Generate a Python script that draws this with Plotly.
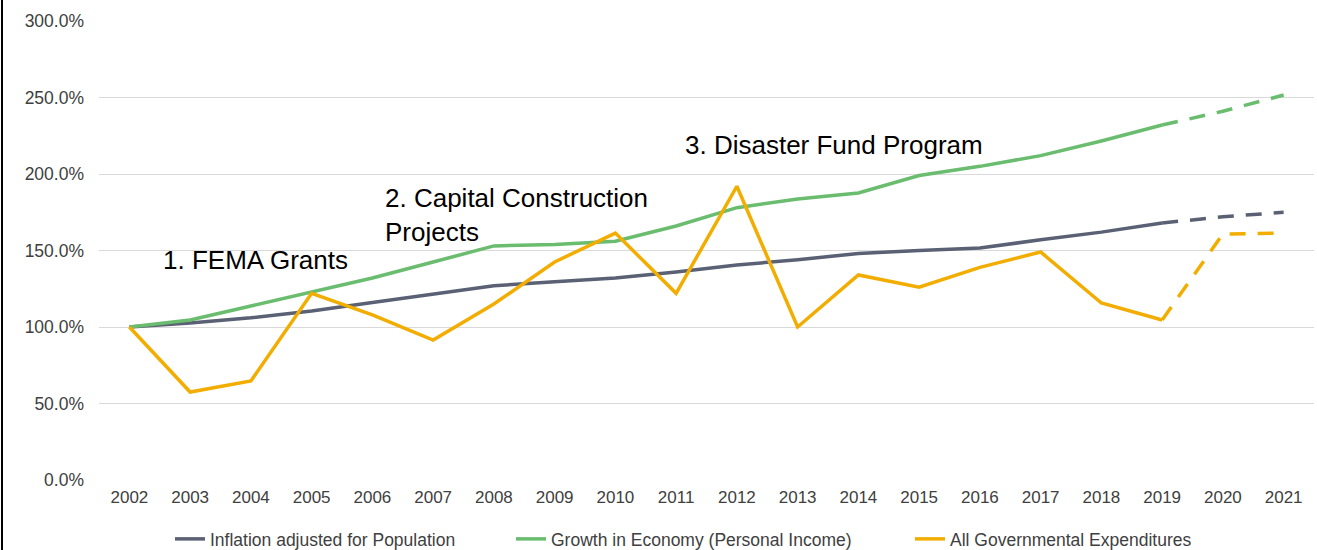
import plotly.graph_objects as go

years = [str(y) for y in range(2002, 2022)]

inflation = [100.0, 102.6, 106.0, 110.5, 116.0, 121.5, 127.0, 129.5, 132.0, 136.0,
             140.5, 144.0, 148.0, 150.0, 151.6, 157.0, 162.0, 168.0, 172.0, 175.0]
economy = [100.0, 104.6, 113.7, 123.0, 132.0, 142.5, 153.0, 154.0, 156.0, 166.0,
           178.0, 183.7, 187.6, 199.0, 205.0, 212.0, 221.6, 232.0, 241.0, 251.6]
expenditures = [100.0, 57.5, 64.7, 122.0, 108.0, 91.5, 115.0, 142.5, 161.4, 122.0,
                192.0, 100.0, 134.0, 126.0, 139.0, 149.0, 115.7, 104.6, 160.8, 161.4]

series = [
    ("Inflation adjusted for Population", inflation, "#5a6175", "legend"),
    ("Growth in Economy (Personal Income)", economy, "#6abc6f", "legend2"),
    ("All Governmental Expenditures", expenditures, "#f2ad00", "legend3"),
]

# last actual year, the rest is projected (dashed)
split = years.index("2019")

fig = go.Figure()

for name, values, color, leg in series:
    fig.add_trace(go.Scatter(
        x=years[:split + 1],
        y=values[:split + 1],
        name=name,
        mode="lines",
        legend=leg,
        line=dict(color=color, width=3.5),
        hovertemplate='%{y:.1f}%<extra></extra>'
    ))
    fig.add_trace(go.Scatter(
        x=years[split:],
        y=values[split:],
        name=name,
        mode="lines",
        legend=leg,
        showlegend=False,
        line=dict(color=color, width=3.5, dash="16px,12px"),
        hovertemplate='%{y:.1f}%<extra></extra>'
    ))

# program labels (positions in pixels of the plot area)
plot_l, plot_w, plot_b, plot_h = 99, 1215, 480, 459
notes = [
    ("1. FEMA Grants", 161, 260),
    ("2. Capital Construction<br>Projects", 383, 215),
    ("3. Disaster Fund Program", 683, 145),
]
for text, xpx, ypx in notes:
    fig.add_annotation(
        text=text,
        xref="paper", yref="paper",
        x=(xpx - plot_l) / plot_w, y=(plot_b - ypx) / plot_h,
        xanchor="left", yanchor="middle",
        align="left",
        showarrow=False,
        font=dict(family="Liberation Sans, Arial", size=26, color="#000000")
    )

# frame line on the left edge
fig.add_shape(
    type="line",
    xref="paper", yref="paper",
    x0=(2 - plot_l) / plot_w, x1=(2 - plot_l) / plot_w, y0=-0.2, y1=1.05,
    line=dict(color="#000000", width=2)
)


def legend_at(xpx):
    return dict(
        orientation="h",
        xref="container",
        x=xpx / 1317,
        xanchor="left",
        yref="container",
        y=(550 - 539) / 550,
        yanchor="middle",
        bgcolor="rgba(0,0,0,0)",
        font=dict(size=17.5, color="#404040"),
        itemwidth=30
    )


fig.update_layout(
    width=1317,
    height=550,
    margin=dict(l=plot_l, r=1317 - plot_l - plot_w, t=21, b=550 - plot_b, autoexpand=False),
    paper_bgcolor="white",
    plot_bgcolor="white",
    font=dict(family="Liberation Sans, Arial", size=17, color="#404040"),
    xaxis=dict(
        type="category",
        range=[-0.5, len(years) - 0.5],
        showgrid=False,
        showline=False,
        ticks="",
        ticklabelstandoff=5,
        automargin=False,
        tickfont=dict(size=17, color="#404040")
    ),
    yaxis=dict(
        range=[0, 300],
        dtick=50,
        ticksuffix="%",
        tickformat=".1f",
        showgrid=True,
        gridcolor="#d9d9d9",
        gridwidth=1,
        zeroline=False,
        showline=False,
        ticklabelstandoff=14,
        automargin=False,
        tickfont=dict(size=17.5, color="#404040")
    ),
    showlegend=True,
    legend=legend_at(170),
    legend2=legend_at(511),
    legend3=legend_at(910),
)

# the page body has a default margin; drop it so the figure fills the window
fig.write_html(
    "out.html",
    config={"displayModeBar": False},
    post_script="document.body.style.margin='0';"
)
